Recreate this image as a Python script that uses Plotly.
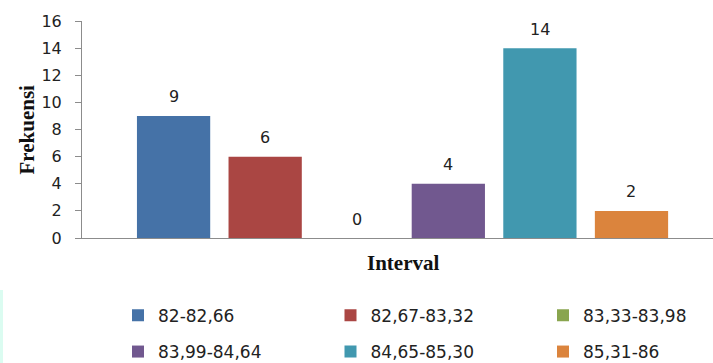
import plotly.graph_objects as go

# Frequency distribution per score interval
intervals = ["82-82,66", "82,67-83,32", "83,33-83,98", "83,99-84,64", "84,65-85,30", "85,31-86"]
frequencies = [9, 6, 0, 4, 14, 2]
colors = ["#4572A7", "#AA4643", "#89A54E", "#71588F", "#4198AF", "#DB843D"]
y_ticks = [0, 2, 4, 6, 8, 10, 12, 14, 16]

W, H = 713, 363
L, R, T, B = 82, 0, 21, 125

# legend grid: 3 columns x 2 rows (left edge of each entry, row centre), in pixels
legend_cols = [118, 330.5, 543]
legend_rows = [315.7, 352]

legend_font = dict(family="DejaVu Sans", size=17, color="#222222")

fig = go.Figure()
layout_legends = {}
for i, (name, val, col) in enumerate(zip(intervals, frequencies, colors)):
    key = "legend" if i == 0 else f"legend{i + 1}"
    fig.add_trace(go.Bar(
        x=[i], y=[val], name=name, width=0.8,
        marker=dict(color=col, line=dict(width=0)),
        legend=key,
        hoverinfo="skip",
    ))
    layout_legends[key] = dict(
        orientation="h", xref="container", yref="container",
        xanchor="left", yanchor="middle",
        x=legend_cols[i % 3] / W, y=1 - legend_rows[i // 3] / H,
        font=legend_font, bgcolor="rgba(0,0,0,0)", borderwidth=0,
        itemclick=False, itemdoubleclick=False,
    )
    # value label above each bar
    fig.add_annotation(
        x=i, y=val, xref="x", yref="y", text=str(val), showarrow=False,
        yanchor="middle", yshift=19,
        font=dict(family="DejaVu Sans", size=16, color="#222222"),
    )

# axis titles
fig.add_annotation(
    x=2.5, y=0, xref="x", yref="paper", text="<b>Interval</b>", showarrow=False,
    yanchor="middle", yshift=-25,
    font=dict(family="Liberation Serif", size=21, color="#111111"),
)
fig.add_annotation(
    x=(26 - L) / (W - L - R), y=0.5, xref="paper", yref="paper", text="<b>Frekuensi</b>",
    showarrow=False, textangle=-90, xanchor="center", yanchor="middle",
    font=dict(family="Liberation Serif", size=21, color="#111111"),
)

# faint tint strip along the lower left edge
plot_h = H - T - B
fig.add_shape(
    type="rect", xref="paper", yref="paper", layer="above",
    x0=(0 - L) / (W - L - R), x1=(3 - L) / (W - L - R),
    y0=-(290 - T - plot_h) / plot_h, y1=-(H - T - plot_h) / plot_h,
    fillcolor="rgba(190,250,230,0.55)", line=dict(width=0),
)

fig.update_layout(
    width=W, height=H,
    margin=dict(l=L, r=R, t=T, b=B),
    paper_bgcolor="white", plot_bgcolor="white",
    barmode="overlay",
    showlegend=True,
    xaxis=dict(
        range=[-1.0, 5.89], showticklabels=False, ticks="",
        showgrid=False, zeroline=False,
        showline=True, linecolor="#8C8C8C", linewidth=1,
        fixedrange=True,
    ),
    yaxis=dict(
        range=[0, 16], tickvals=y_ticks, ticks="outside", ticklen=6,
        tickcolor="#8C8C8C", showgrid=False, zeroline=False,
        showline=True, linecolor="#8C8C8C", linewidth=1,
        ticklabelstandoff=10,
        tickfont=dict(family="DejaVu Sans", size=16, color="#222222"),
        fixedrange=True,
    ),
    **layout_legends,
)

fig.write_html("out.html")
